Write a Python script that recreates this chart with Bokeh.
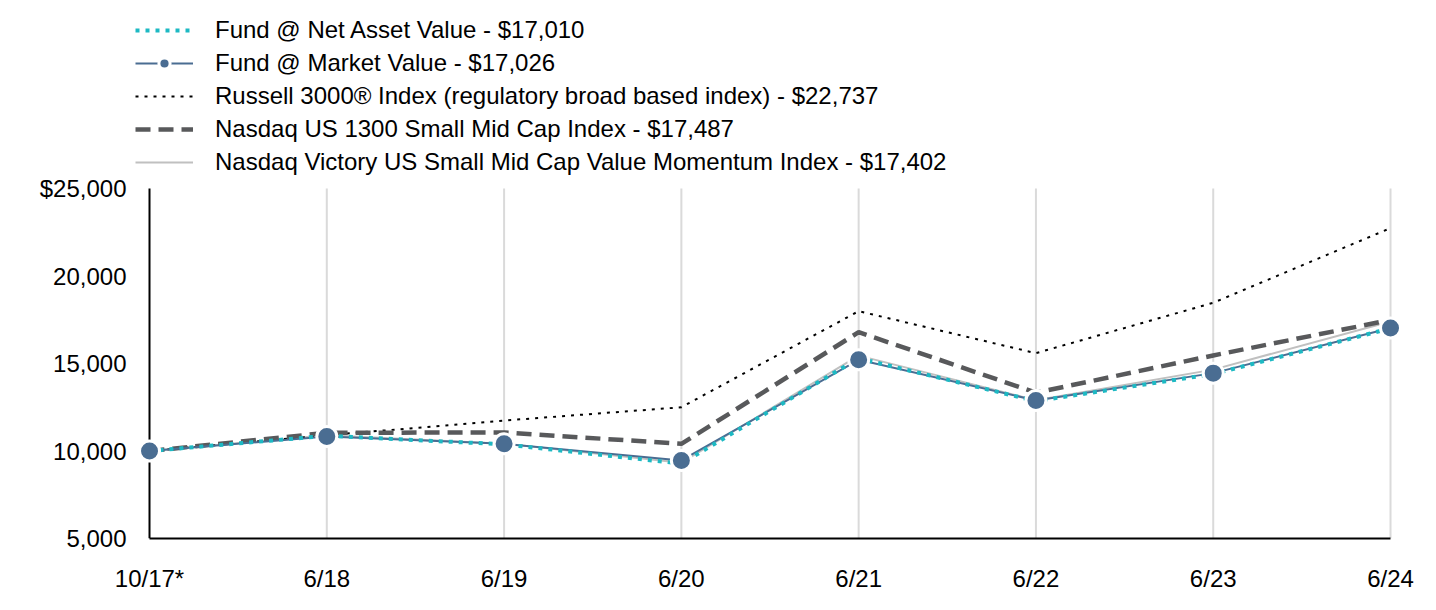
from bokeh.plotting import figure
from bokeh.models import Range1d, FixedTicker, Legend, LegendItem
from bokeh.embed import file_html
from bokeh.resources import INLINE

dates = ["10/17*", "6/18", "6/19", "6/20", "6/21", "6/22", "6/23", "6/24"]
nav = [10000, 10870, 10380, 9280, 15300, 12850, 14400, 17010]
market = [10000, 10830, 10410, 9460, 15210, 12890, 14450, 17026]
russell = [10000, 10900, 11740, 12500, 17990, 15590, 18470, 22737]
nasdaq1300 = [10000, 11040, 11060, 10410, 16790, 13330, 15460, 17487]
victory = [10000, 10900, 10420, 9330, 15450, 12900, 14650, 17402]
y_ticks = [5000, 10000, 15000, 20000, 25000]
y_tick_labels = ["5,000", "10,000", "15,000", "20,000", "$25,000"]
legend_labels = [
    "Fund @ Net Asset Value - $17,010",
    "Fund @ Market Value - $17,026",
    "Russell 3000® Index (regulatory broad based index) - $22,737",
    "Nasdaq US 1300 Small Mid Cap Index - $17,487",
    "Nasdaq Victory US Small Mid Cap Value Momentum Index - $17,402",
]

x = list(range(len(dates)))
FONT = "Liberation Sans"
TEAL = "#1DB9C3"
BLUE = "#4A6D92"
DARK = "#58595B"
LIGHT = "#C0C0C0"
GRID = "#DADADA"

PLOT_H = 350      # pixel height of the value area
TOP_SPACE = 188   # pixels above it reserved for the legend
y_lo, y_hi = y_ticks[0], y_ticks[-1]
y_top = y_hi + (y_hi - y_lo) * TOP_SPACE / PLOT_H

p = figure(frame_width=1284, frame_height=PLOT_H + TOP_SPACE,
           min_border_left=128, min_border_right=16,
           min_border_top=0, min_border_bottom=64,
           x_range=Range1d(-0.1185, 7.124), y_range=Range1d(y_lo, y_top),
           output_backend="svg", toolbar_location=None)
p.outline_line_color = None
p.background_fill_color = "white"

# x axis
p.xaxis.ticker = FixedTicker(ticks=x)
p.xaxis.major_label_overrides = {i: d for i, d in zip(x, dates)}
p.xaxis.bounds = (x[0], x[-1])
p.xaxis.axis_line_color = "black"
p.xaxis.axis_line_width = 2
p.xaxis.major_tick_line_color = None
p.xaxis.minor_tick_line_color = None
p.xaxis.major_tick_out = 0
p.xaxis.major_label_standoff = 26
p.xaxis.major_label_text_font = FONT
p.xaxis.major_label_text_font_size = "24px"
p.xaxis.major_label_text_color = "black"

# y axis (labels only; the axis line is drawn at the first category)
p.yaxis.ticker = FixedTicker(ticks=y_ticks)
p.yaxis.major_label_overrides = {t: l for t, l in zip(y_ticks, y_tick_labels)}
p.yaxis.axis_line_color = None
p.yaxis.major_tick_line_color = None
p.yaxis.minor_tick_line_color = None
p.yaxis.major_tick_out = 0
p.yaxis.major_label_standoff = 2
p.yaxis.major_label_text_font = FONT
p.yaxis.major_label_text_font_size = "24px"
p.yaxis.major_label_text_color = "black"

p.xgrid.grid_line_color = None
p.ygrid.grid_line_color = None

# vertical grid lines at each later date, limited to the value area
n_grid = len(x) - 1
p.segment(x0=x[1:], y0=[y_lo] * n_grid, x1=x[1:], y1=[y_hi] * n_grid,
          line_color=GRID, line_width=2, level="underlay")
# y axis line at the first date
p.segment(x0=[x[0]], y0=[y_lo], x1=[x[0]], y1=[y_hi],
          line_color="black", line_width=2, level="underlay")

r_vic = p.line(x, victory, line_color=LIGHT, line_width=2)
r_rus = p.line(x, russell, line_color="black", line_width=2, line_dash="3 6")
r_nas = p.line(x, nasdaq1300, line_color=DARK, line_width=4.5, line_dash="15 8")
r_mkt = p.line(x, market, line_color=BLUE, line_width=2)
r_nav = p.line(x, nav, line_color=TEAL, line_width=4, line_dash="4 6")
r_mkt_pts = p.scatter(x, market, size=20, fill_color=BLUE, line_color="white", line_width=3)

legend = Legend(items=[
    LegendItem(label=legend_labels[0], renderers=[r_nav]),
    LegendItem(label=legend_labels[1], renderers=[r_mkt, r_mkt_pts]),
    LegendItem(label=legend_labels[2], renderers=[r_rus]),
    LegendItem(label=legend_labels[3], renderers=[r_nas]),
    LegendItem(label=legend_labels[4], renderers=[r_vic]),
], location=(7, 362))
legend.glyph_width = 58
legend.glyph_height = 28
legend.label_height = 28
legend.spacing = 5
legend.padding = 0
legend.margin = 0
legend.label_standoff = 22
legend.border_line_color = None
legend.background_fill_alpha = 0
legend.label_text_font = FONT
legend.label_text_font_size = "24px"
legend.label_text_color = "black"
p.add_layout(legend, "center")

open("out.html", "w").write(file_html(p, INLINE))
